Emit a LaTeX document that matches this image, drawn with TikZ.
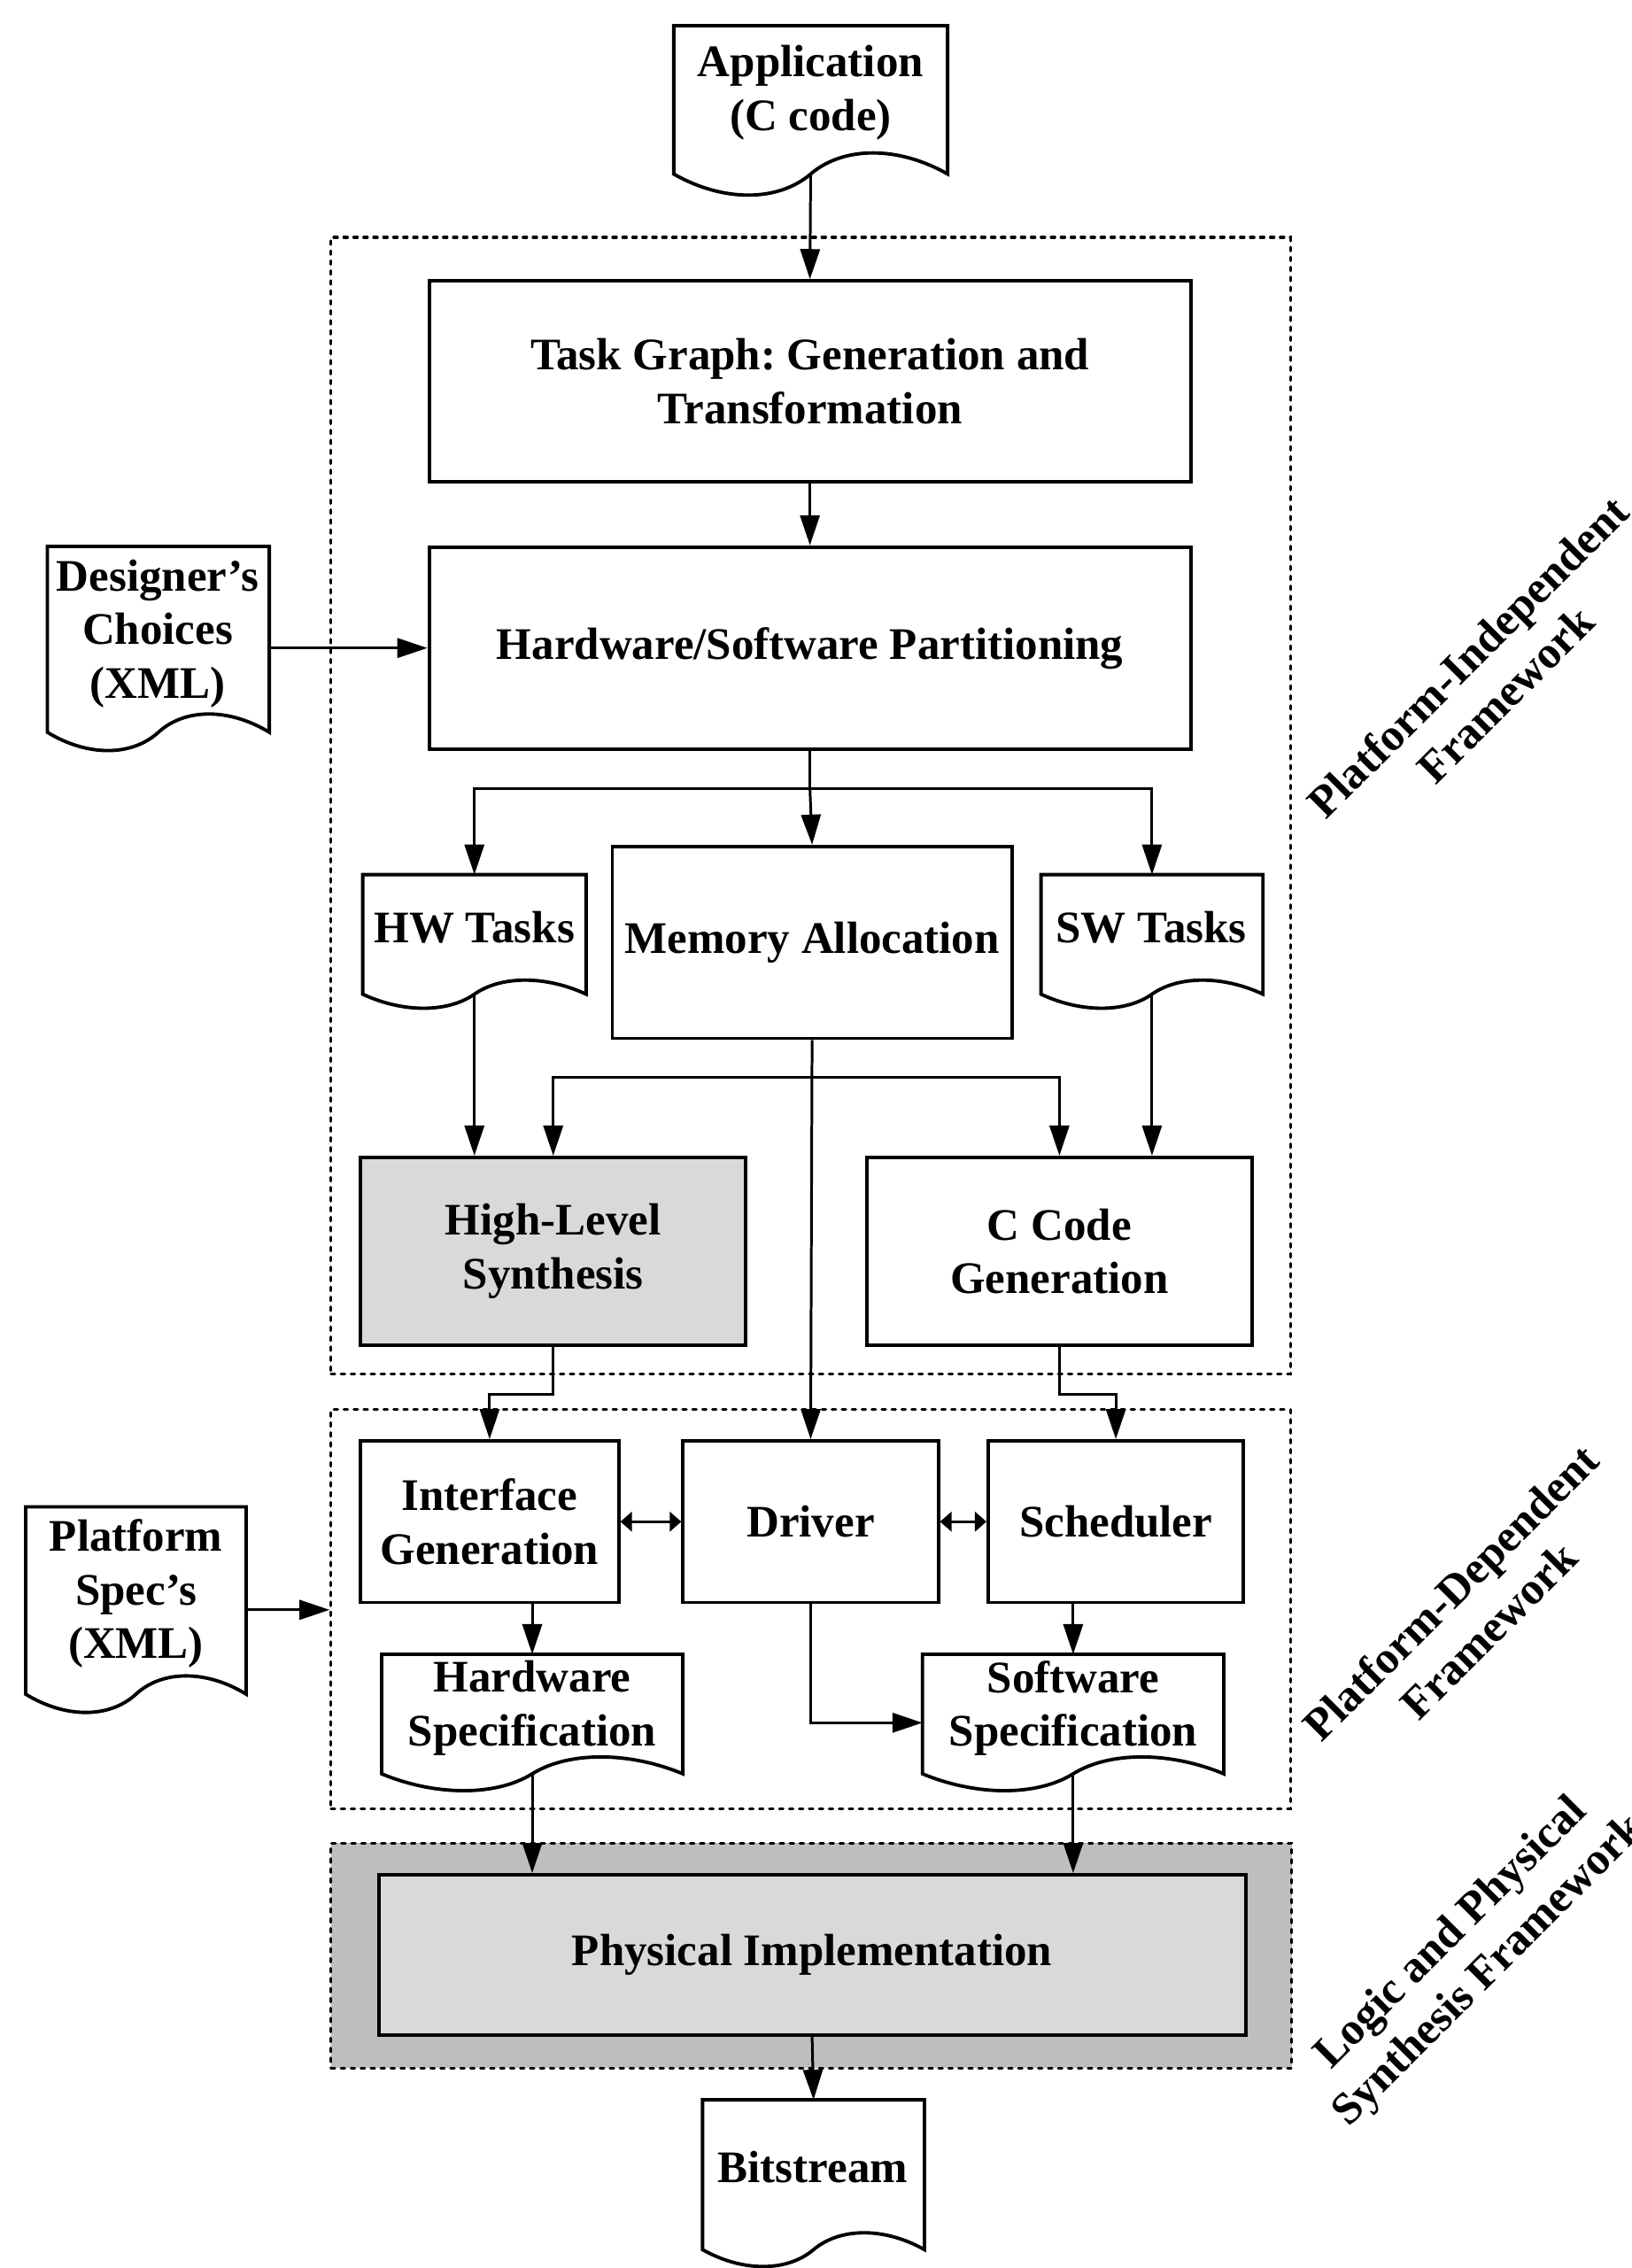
\documentclass[tikz,border=0pt]{standalone}
\usepackage{fontspec}
\setmainfont{Liberation Serif}
\usetikzlibrary{arrows.meta,calc}

\definecolor{boxgray}{HTML}{D9D9D9}
\definecolor{framegray}{HTML}{BEBEBE}

% Rectangle node given by its corners (in picture units):
% #1 style, #2 name, #3..#6 = x0,y0,x1,y1, #7 text
\newcommand\rectnode[7]{%
  \node[#1, minimum width={(#5-#3)*0.4633pt}, minimum height={(#6-#4)*0.4633pt}]
    (#2) at ({(#3+#5)/2},{(#4+#6)/2}) {#7};}

% Document symbol: straight top and sides, wavy bottom edge.
% #1 = node whose box gives the body, #2 = depth of the wave
\newcommand\docshape[2]{%
  \draw[docline, fill=white] let \p1=(#1.south west), \p2=(#1.north east) in
    (\x1,\y1) -- (\x1,\y2) -- (\x2,\y2) -- (\x2,\y1)
    .. controls ({\x1+0.82*(\x2-\x1)},{\y1+1.3*#2*0.4633pt}) and ({\x1+0.62*(\x2-\x1)},{\y1+1.3*#2*0.4633pt}) .. ({0.5*(\x1+\x2)},\y1)
    .. controls ({\x1+0.38*(\x2-\x1)},{\y1-1.3*#2*0.4633pt}) and ({\x1+0.18*(\x2-\x1)},{\y1-1.3*#2*0.4633pt}) .. (\x1,\y1) -- cycle;}

\begin{document}
\begin{tikzpicture}[x=0.01633cm, y=-0.01633cm,
  font=\fontsize{14.5}{17.2}\selectfont\bfseries\frenchspacing,
  docline/.style={line width=1.1pt},
  box/.style={draw, line width=1.1pt, inner sep=0pt, align=center},
  graybox/.style={box, fill=boxgray},
  body/.style={inner sep=0pt},
  txt/.style={inner sep=0pt, align=center},
  frame/.style={draw, inner sep=0pt, line width=0.9pt, dash pattern=on 1.2pt off 2pt, line cap=round},
  conn/.style={line width=0.85pt, -{Triangle[length=3.4mm,width=2.2mm]}},
  link/.style={line width=0.85pt},
  dbl/.style={line width=0.85pt, {Triangle[length=1.3mm,width=2.2mm]}-{Triangle[length=1.3mm,width=2.2mm]}},
  lbl/.style={rotate=45, align=center, inner sep=0pt}
]
\useasboundingbox (0,0) rectangle (1128,1568);
\clip (0,0) rectangle (1128,1568);

% framework regions
\rectnode{frame}{pif}{228}{163}{893}{951}{}
\rectnode{frame}{pdf}{228}{974}{893}{1251}{}
\rectnode{frame, fill=framegray}{lpf}{228}{1274}{894}{1430}{}

% document inputs and outputs
\rectnode{body}{app}{466}{18}{655}{120}{}
\docshape{app}{15}
\node[txt] (appT) at (560.5,64) {Application\\(C code)};

\rectnode{body}{des}{33}{378}{186}{506}{}
\docshape{des}{13}
\node[txt] (desT) at (109,438) {Designer’s\\Choices\\(XML)};

\rectnode{body}{hwt}{251}{605}{405}{687}{}
\docshape{hwt}{10}
\node[txt] (hwtT) at (328,641) {HW Tasks};

\rectnode{body}{swt}{720}{605}{873}{687}{}
\docshape{swt}{10}
\node[txt] (swtT) at (796,641) {SW Tasks};

\rectnode{body}{pspec}{18}{1042}{170}{1171}{}
\docshape{pspec}{13}
\node[txt] (pspecT) at (94,1102) {Platform\\Spec’s\\(XML)};

\rectnode{body}{hws}{264}{1144}{472}{1226}{}
\docshape{hws}{12}
\node[txt] (hwsT) at (368,1181) {Hardware\\Specification};

\rectnode{body}{sws}{638}{1144}{846}{1226}{}
\docshape{sws}{12}
\node[txt] (swsT) at (742,1181) {Software\\Specification};

\rectnode{body}{bit}{486}{1452}{639}{1555}{}
\docshape{bit}{12}
\node[txt] (bitT) at (562,1498) {Bitstream};

% processing steps
\rectnode{box}{tg}{296}{194}{824}{333}{Task Graph: Generation and\\Transformation}
\rectnode{box}{part}{296}{378}{824}{518}{Hardware/Software Partitioning}
\rectnode{box}{mem}{423}{585}{700}{718}{Memory Allocation}
\rectnode{graybox}{hls}{249}{800}{516}{930}{High-Level\\Synthesis}
\rectnode{box}{ccg}{599}{800}{866}{930}{C Code\\Generation}
\rectnode{box}{ifg}{249}{996}{428}{1108}{Interface\\Generation}
\rectnode{box}{drv}{472}{996}{649}{1108}{Driver}
\rectnode{box}{sch}{683}{996}{860}{1108}{Scheduler}
\rectnode{graybox}{phys}{261}{1296}{862}{1407}{Physical Implementation}

% framework labels
\node[lbl] (pifL) at (1028,467) {Platform-Independent\\Framework};
\node[lbl] (pdfL) at (1016,1114) {Platform-Dependent\\Framework};
\node[lbl] (lpfL) at (1017,1350) {Logic and Physical\\Synthesis Framework};

% connectors
\coordinate (br) at (560,545);
\coordinate (mb) at (560,745);
\draw[conn] (app.south) -- (tg.north);
\draw[conn] (tg.south) -- (part.north);
\draw[conn] (des.east |- part.west) -- (part.west);
\draw[link] (part.south) -- (br);
\draw[conn] (br) -| (hwt.north);
\draw[conn] (br) -| (swt.north);
\draw[conn] (br) -- (mem.north);
\draw[conn] (hwt.south) -- (hwt.south |- hls.north);
\draw[conn] (swt.south) -- (swt.south |- ccg.north);
\draw[conn] (mem.south) -- (drv.north);
\draw[conn] (mb) -| (hls.north);
\draw[conn] (mb) -| (ccg.north);
\draw[conn] (hls.south) -- ++(0,33) -| (ifg.north);
\draw[conn] (ccg.south) -- ++(0,33) -| (sch.north);
\draw[dbl] (ifg.east) -- (drv.west);
\draw[dbl] (drv.east) -- (sch.west);
\draw[conn] ([yshift=-3pt]pspec.east) -- ([yshift=-3pt]pspec.east -| pdf.west);
\draw[conn] (hws.north |- ifg.south) -- (hws.north);
\draw[conn] (sws.north |- sch.south) -- (sws.north);
\draw[conn] (drv.south) |- ([yshift=-2.8pt]sws.west);
\draw[conn] (hws.south) -- (hws.south |- phys.north);
\draw[conn] (sws.south) -- (sws.south |- phys.north);
\draw[conn] (phys.south) -- (bit.north);
\end{tikzpicture}
\end{document}
